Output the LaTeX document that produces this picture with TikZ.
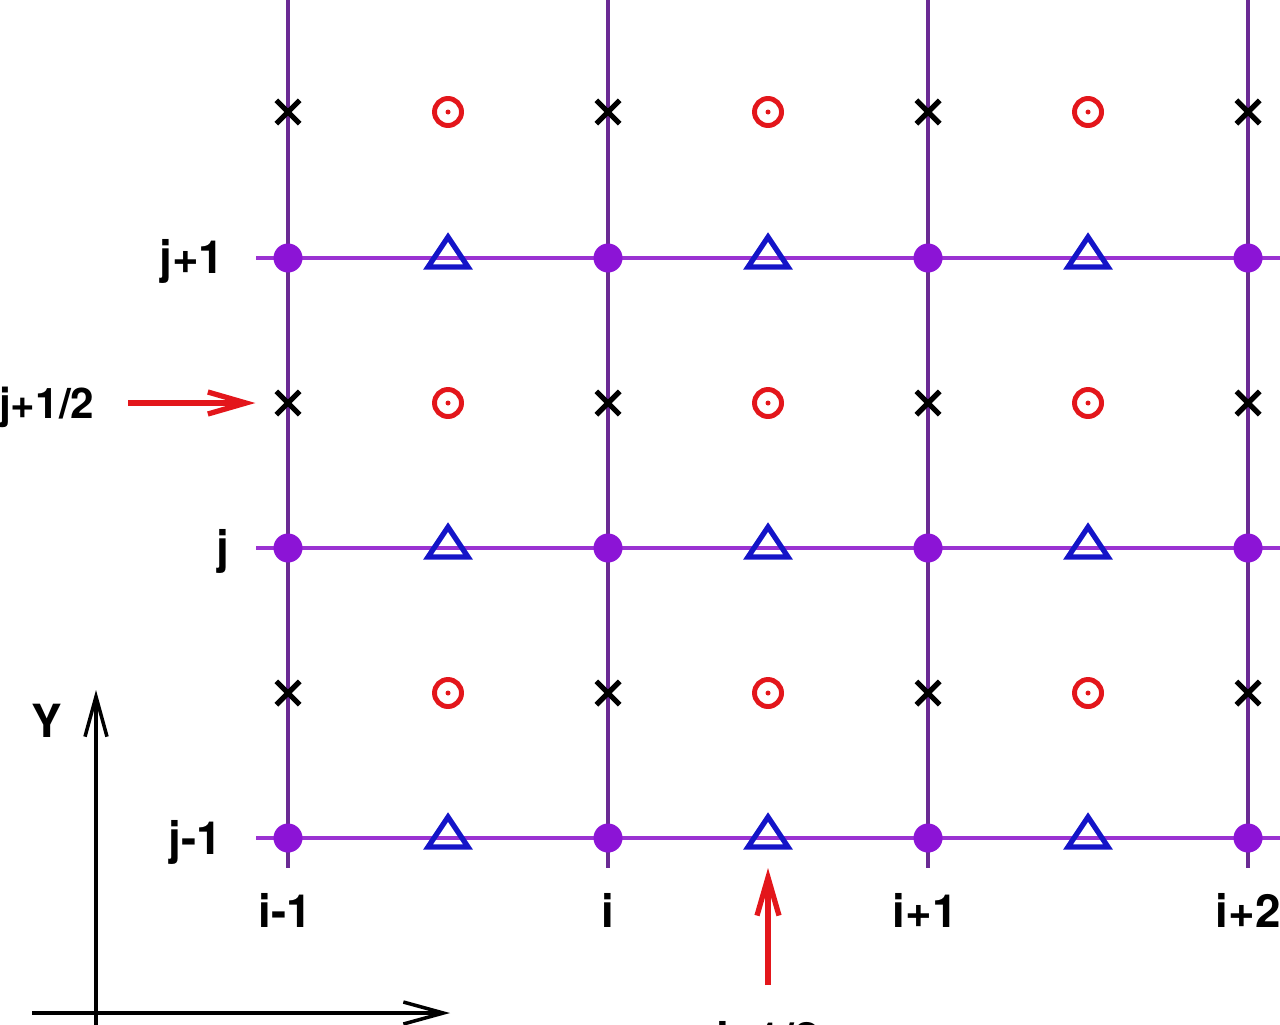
\documentclass[tikz,border=0pt]{standalone}
\usepackage{fontspec}
\setsansfont{TeX Gyre Heros}
\usetikzlibrary{arrows.meta,shapes.misc}
\definecolor{vline}{HTML}{6A2A94}
\definecolor{hline}{HTML}{9A32D2}
\definecolor{dotc}{HTML}{8C14D6}
\definecolor{redc}{HTML}{E3161B}
\definecolor{bluec}{HTML}{1414C8}

\begin{document}
\begin{tikzpicture}[x=0.01cm, y=-0.01cm,
        lab/.style = {font=\sffamily\bfseries\fontsize{13}{15}\selectfont, inner sep=0pt},
        dot/.style = {circle, fill=dotc, minimum size=0.29cm, inner sep=0pt},
        xmark/.style = {cross out, draw=black, line width=1.5pt, minimum size=0.18cm, inner sep=0pt},
        cmark/.style = {circle, draw=redc, line width=1.4pt, minimum size=0.27cm, inner sep=0pt},
        tmark/.style = {draw=bluec, line width=1.5pt},
        pointer/.style = {draw=redc, line width=1.5pt, -{Straight Barb[length=0.38cm, width=0.22cm]}},
        axis/.style = {line width=1pt, -{Straight Barb[length=0.4cm, width=0.22cm]}}]
    \useasboundingbox (0,0) rectangle (1280,1024);
    % grid lines
    \foreach \x in {288,608,928,1248}
        \draw[vline, line width=1pt] (\x,-10) -- (\x,868);
    \foreach \y in {258,548,838}
        \draw[hline, line width=0.9pt] (256,\y) -- (1290,\y);
    % points of the grid
    \foreach \x [count=\i] in {288,608,928,1248} {
        \foreach \y [count=\j] in {258,548,838}
            \node[dot] (p\i\j) at (\x,\y) {};
        \foreach \y [count=\j] in {112,403,693}
            \node[xmark] (h\i\j) at (\x,\y) {};
    }
    \foreach \x [count=\i] in {448,768,1088} {
        \foreach \y [count=\j] in {112,403,693} {
            \node[cmark] (c\i\j) at (\x,\y) {};
            \fill[redc] (c\i\j) circle (0.025cm);
        }
        \foreach \y [count=\j] in {258,548,838} {
            \coordinate (t\i\j) at (\x,\y);
            \draw[tmark] ([shift={(-20,9)}]t\i\j) -- ([shift={(0,-21)}]t\i\j) -- ([shift={(20,9)}]t\i\j) -- cycle;
        }
    }
    % labels
    \node[lab, anchor=base east] (j1) at (225,273) {j+1};
    \node[lab, anchor=base east, font=\sffamily\bfseries\fontsize{12}{14}\selectfont] (jh) at (95,418) {j+1/2};
    \node[lab, anchor=base east] (j0) at (230,563) {j};
    \node[lab, anchor=base east] (jm) at (223,854) {j-1};
    \node[lab, anchor=base] (im) at (285,927) {i-1};
    \node[lab, anchor=base] (i0) at (608,927) {i};
    \node[lab, anchor=base] (i1) at (925,927) {i+1};
    \node[lab, anchor=base] (i2) at (1248,927) {i+2};
    \node[lab, anchor=base] (ih) at (768,1055) {i+1/2};
    \node[lab, anchor=base] (ylab) at (47,737) {Y};
    % red pointers
    \coordinate (ra) at (128,403);
    \coordinate (rb) at (768,985);
    \draw[pointer, shorten >=0.21cm] (ra) -- (h12.west);
    \draw[pointer] (rb) -- ([yshift=-0.3cm]t23);
    % axes
    \coordinate (ya) at (96,1040);
    \coordinate (yb) at (96,690);
    \coordinate (xa) at (32,1013);
    \coordinate (xb) at (450,1013);
    \draw[axis] (ya) -- (yb);
    \draw[axis] (xa) -- (xb);
\end{tikzpicture}
\end{document}
